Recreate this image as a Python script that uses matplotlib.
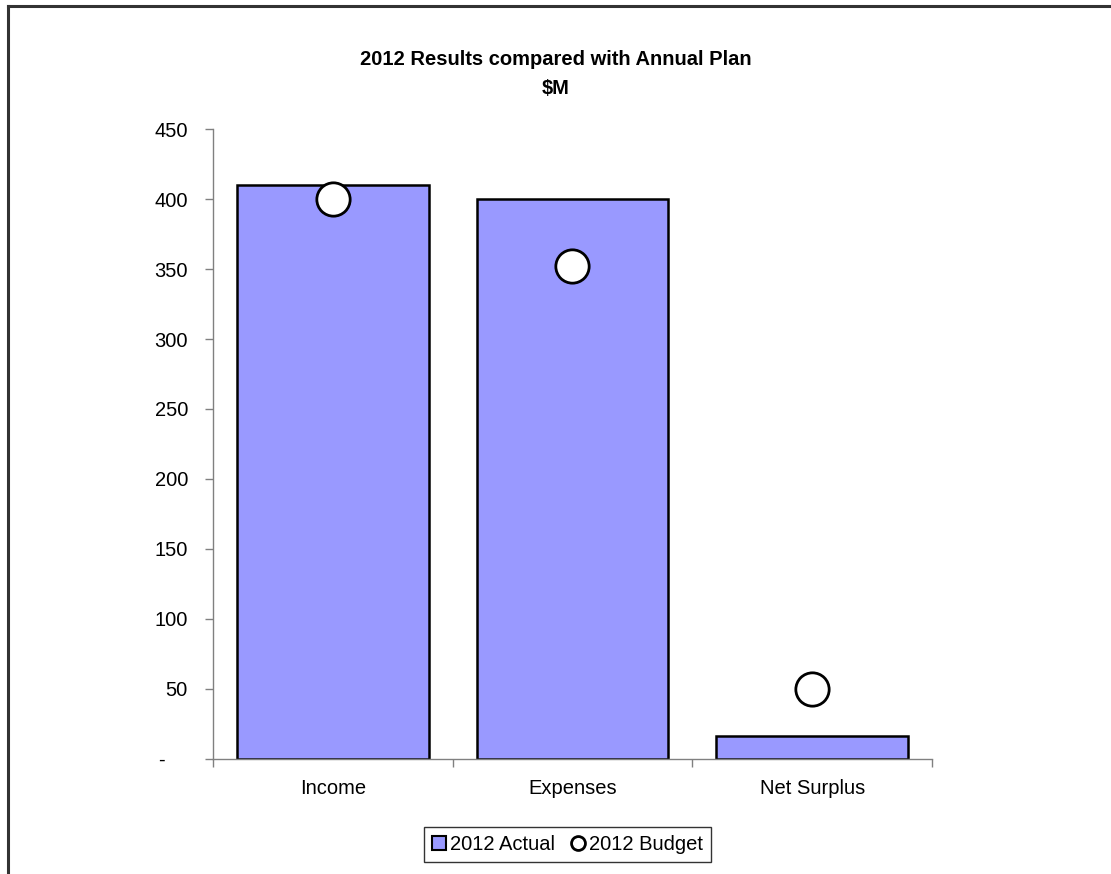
import numpy as np
import matplotlib.pyplot as plt
from matplotlib.lines import Line2D
from matplotlib.patches import Patch

plt.rcParams['font.family'] = ['Liberation Sans', 'DejaVu Sans']

# Данные: факт и план, $M
categories = ["Income", "Expenses", "Net Surplus"]
actual_2012 = [410, 400, 16]
budget_2012 = [400, 352, 50]
yticks = [0, 50, 100, 150, 200, 250, 300, 350, 400, 450]

fig = plt.figure(figsize=(11.11, 8.74), dpi=100)
ax = fig.add_axes([0.1917, 0.1321, 0.6472, 0.7199])

x = np.arange(len(categories))
ax.bar(x, actual_2012, width=0.8, color='#9999FF', edgecolor='black', linewidth=1.8, zorder=2)
ax.plot(x, budget_2012, linestyle='none', marker='o', markersize=24,
        markerfacecolor='white', markeredgecolor='black', markeredgewidth=2, zorder=3)

ax.set_xlim(-0.5, 2.5)
ax.set_ylim(0, 450)
ax.set_yticks(yticks)
ax.set_yticklabels(["-    "] + [str(v) for v in yticks[1:]])

# подписи категорий без меток, метки - на границах категорий
ax.set_xticks(x)
ax.set_xticklabels(categories)
ax.tick_params(axis='x', which='major', length=0, pad=15, labelsize=14.5)
ax.set_xticks([-0.5, 0.5, 1.5, 2.5], minor=True)
ax.tick_params(axis='x', which='minor', length=6, color='#808080', width=1)
ax.tick_params(axis='y', length=6, color='#808080', width=1, pad=12, labelsize=14.5)

for s in ['top', 'right']:
    ax.spines[s].set_visible(False)
for s in ['left', 'bottom']:
    ax.spines[s].set_color('#808080')
    ax.spines[s].set_linewidth(1)

fig.text(0.5, 0.9153, "2012 Results compared with Annual Plan\n$M",
         ha='center', va='center', fontsize=14.5, fontweight='bold', linespacing=1.65)

handles = [Patch(facecolor='#9999FF', edgecolor='black', linewidth=1.5),
           Line2D([], [], linestyle='none', marker='o', markersize=10,
                  markerfacecolor='white', markeredgecolor='black', markeredgewidth=2)]
leg = fig.legend(handles, ["2012 Actual", "2012 Budget"], loc='center',
                 bbox_to_anchor=(0.511, 0.0338), ncol=2, fontsize=14.5, frameon=True,
                 fancybox=False, shadow=False, handlelength=0.7, handleheight=0.7,
                 handletextpad=0.2, columnspacing=0.8, borderpad=0.4)
leg.get_frame().set_edgecolor('black')
leg.get_frame().set_linewidth(1)

# рамка области диаграммы (видны верхняя и левая стороны)
fig.add_artist(Line2D([0.0068, 1.0], [0.9932, 0.9932], color='#333333', linewidth=2.2))
fig.add_artist(Line2D([0.0068, 0.0068], [0.0, 0.9932], color='#333333', linewidth=2.2))

fig.savefig("out.png", dpi=100)
